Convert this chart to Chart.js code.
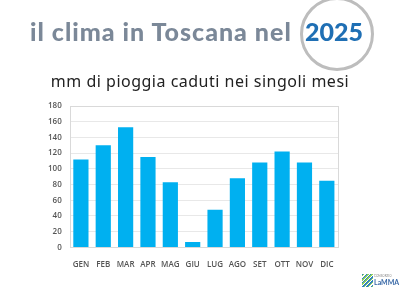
<!DOCTYPE html>
<html><head><meta charset="utf-8">
<script src="https://cdn.jsdelivr.net/npm/chart.js@4/dist/chart.umd.min.js"></script>
<style>
html,body{margin:0;padding:0;background:#fff;}
#wrap{position:relative;width:400px;height:300px;overflow:hidden;font-family:Lato,"Open Sans",sans-serif;}
#c{position:absolute;left:0;top:0;}
#t1{position:absolute;left:30px;top:16px;font-family:Lato,sans-serif;font-weight:900;font-size:25px;color:#7b8898;white-space:nowrap;letter-spacing:1px;}
#t2{position:absolute;left:305px;top:16px;font-family:Lato,sans-serif;font-weight:900;font-size:25px;color:#1f6fb4;white-space:nowrap;}
#circ{position:absolute;left:300px;top:-3px;width:68px;height:68px;border:3px solid #bdbdbd;border-radius:50%;}
#sub{position:absolute;left:0;width:400px;text-align:center;top:70px;font-family:"Noto Sans",sans-serif;font-size:16px;color:#222;white-space:nowrap;letter-spacing:0.5px;}
#logo{position:absolute;left:362px;top:274px;width:30px;height:14px;}
#stripes{position:absolute;left:0;top:0;width:11px;height:13px;background:repeating-linear-gradient(135deg,#2d7fc1 0 1px,#8ccf5a 1px 2px,#fff 2px 3px);}
#lt{position:absolute;left:12px;top:4px;font-size:7px;font-family:Lato,sans-serif;color:#3a6aa8;font-weight:bold;}
#ls{position:absolute;left:12px;top:0px;font-size:3px;color:#888;}
</style></head>
<body><div id="wrap">
<canvas id="c" width="400" height="300"></canvas>
<div id="circ"></div>
<div id="t1">il clima in Toscana nel</div>
<div id="t2">2025</div>
<div id="sub">mm di pioggia caduti nei singoli mesi</div>
<div id="logo"><div id="stripes"></div><div id="ls">CONSORZIO</div><div id="lt">LaMMA</div></div>
</div>
<script>
const months = ["GEN","FEB","MAR","APR","MAG","GIU","LUG","AGO","SET","OTT","NOV","DIC"];
const rainMm = [112,130,153,115,83,7,48,88,108,122,108,85];
const yTicks = [0,20,40,60,80,100,120,140,160,180];

const borderPlugin = {
  id:'borderBox',
  afterDatasetsDraw(chart){
    const a = chart.chartArea, ctx = chart.ctx;
    ctx.save();
    ctx.strokeStyle = '#d9d9d9';
    ctx.lineWidth = 1;
    ctx.strokeRect(Math.round(a.left)+0.5, Math.round(a.top)+0.5, Math.round(a.right-a.left), Math.round(a.bottom-a.top));
    ctx.restore();
  }
};

new Chart(document.getElementById('c'), {
  type:'bar',
  data:{labels:months, datasets:[{data:rainMm, backgroundColor:'#00b0f0', borderWidth:0, categoryPercentage:1, barPercentage:0.68}]},
  options:{
    responsive:false, animation:false,
    layout:{padding:{left:40,right:62,top:106,bottom:25}},
    plugins:{legend:{display:false}, tooltip:{enabled:false}},
    scales:{
      x:{grid:{display:false}, border:{display:false},
         ticks:{color:'#555', font:{family:'Open Sans', size:8, weight:'600'}, padding:5, maxRotation:0, minRotation:0, autoSkip:false}},
      y:{min:0, max:180, afterBuildTicks(ax){ax.ticks = yTicks.map(v=>({value:v}));},
         grid:{color:'#e8e8e8', drawTicks:false}, border:{display:false},
         ticks:{color:'#555', font:{family:'Open Sans', size:8, weight:'600'}, padding:8}}
    }
  },
  plugins:[borderPlugin]
});
</script>
</body></html>
